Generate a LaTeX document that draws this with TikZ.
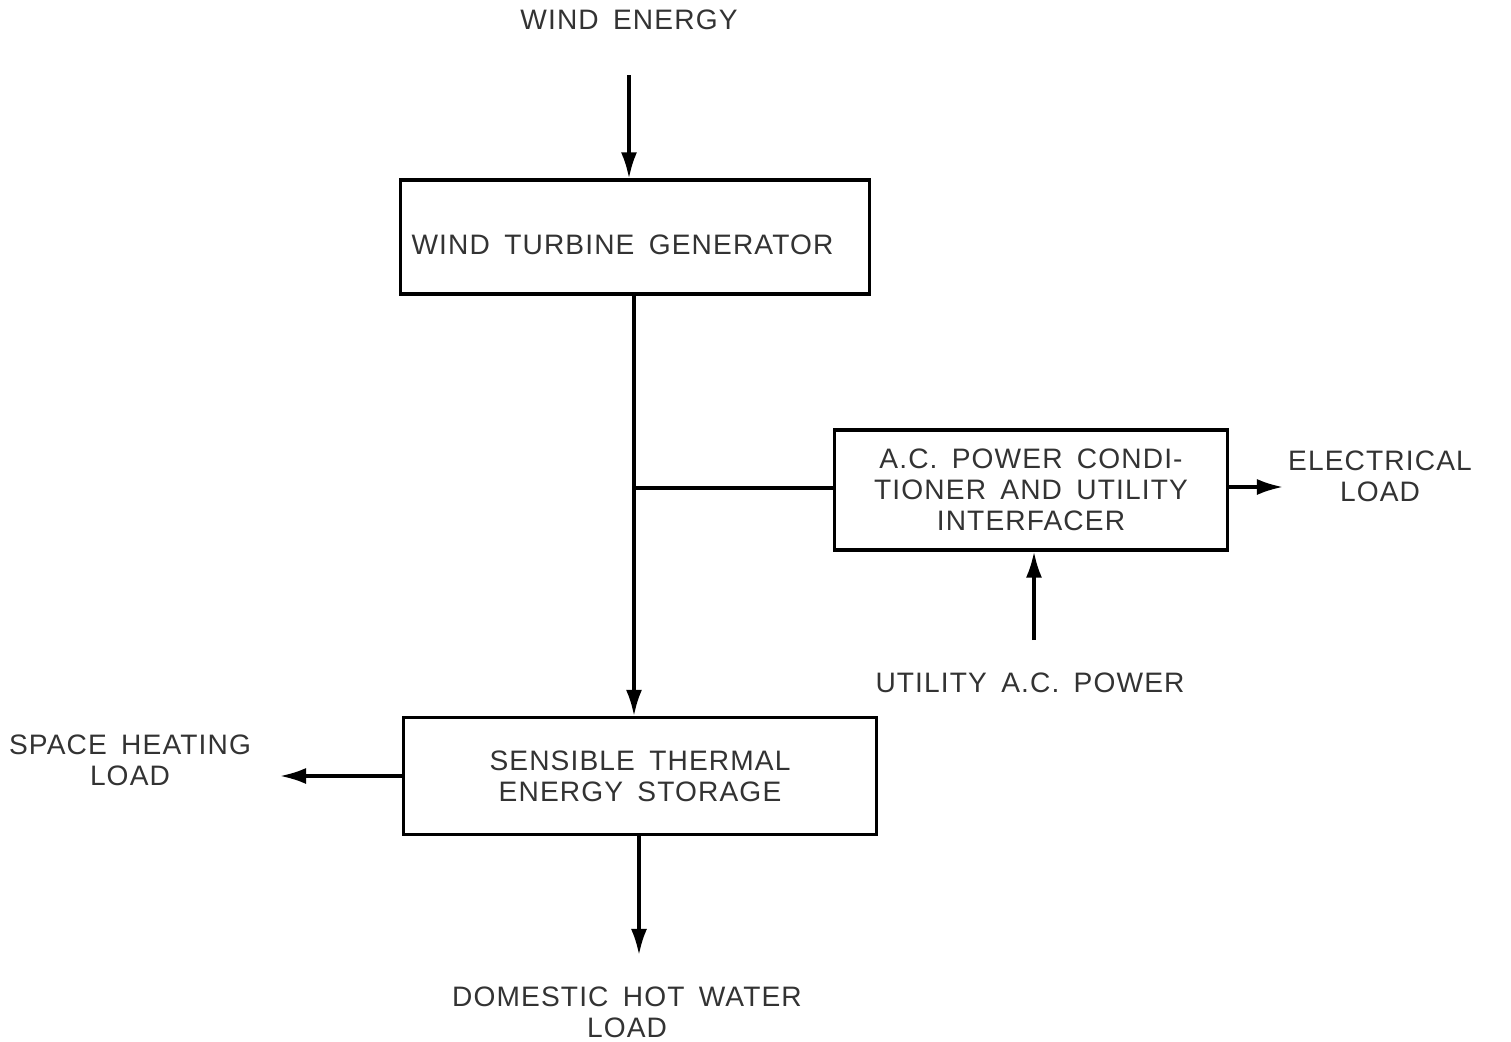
\documentclass[tikz,border=0pt]{standalone}
\usepackage{fontspec}
\setmainfont{Liberation Sans}[LetterSpace=4,WordSpace=1.6]
\usetikzlibrary{arrows.meta}

\tikzset{
  block/.style={draw, line width=0.9pt, align=center, inner sep=0pt},
  flow/.style={line width=0.9pt, -{Latex[length=2.6mm,width=1.6mm]}},
  label/.style={align=center, inner sep=0pt},
}

\begin{document}
\begin{tikzpicture}[x=0.01cm, y=-0.01cm, font=\fontsize{8}{8.8}\selectfont, text=black!80]
    \useasboundingbox (0, 0) rectangle (1511, 1042);
    % boxes
    \node [block, minimum width=4.68cm, minimum height=1.14cm, text height=10.2pt] (wtg) at (635, 237) {WIND TURBINE GENERATOR\hspace{2.5mm}};
    \node [block, minimum width=3.93cm, minimum height=1.20cm] (acpc) at (1031, 490) {A.C. POWER CONDI-\\TIONER AND UTILITY\\INTERFACER};
    \node [block, minimum width=4.73cm, minimum height=1.17cm] (tes) at (640, 776) {SENSIBLE THERMAL\\ENERGY STORAGE};
    % outside texts
    \node [label] (wind) at (629, 20) {WIND ENERGY};
    \node [label] (elec) at (1380, 476) {ELECTRICAL\\LOAD};
    \node [label] (util) at (1030, 683) {UTILITY A.C. POWER};
    \node [label] (space) at (130, 760) {SPACE HEATING\\LOAD};
    \node [label] (dhw) at (627, 1012) {DOMESTIC HOT WATER\\LOAD};
    % free ends of the arrows
    \coordinate (windin) at (629, 75);
    \coordinate (junc) at (634, 488);
    \coordinate (elecout) at (1283, 487);
    \coordinate (utilin) at (1034, 640);
    \coordinate (spaceout) at (280, 776);
    \coordinate (dhwout) at (639, 955);
    % connectors
    \draw [flow] (windin) -- (windin |- wtg.north);
    \draw [flow] (wtg.south -| junc) -- (tes.north -| junc);
    \draw [line width=0.9pt] (junc) -- (acpc.west |- junc);
    \draw [flow] (acpc.east |- elecout) -- (elecout);
    \draw [flow] (utilin) -- (utilin |- acpc.south);
    \draw [flow] (tes.west) -- (spaceout);
    \draw [flow] (tes.south -| dhwout) -- (dhwout);
\end{tikzpicture}
\end{document}
